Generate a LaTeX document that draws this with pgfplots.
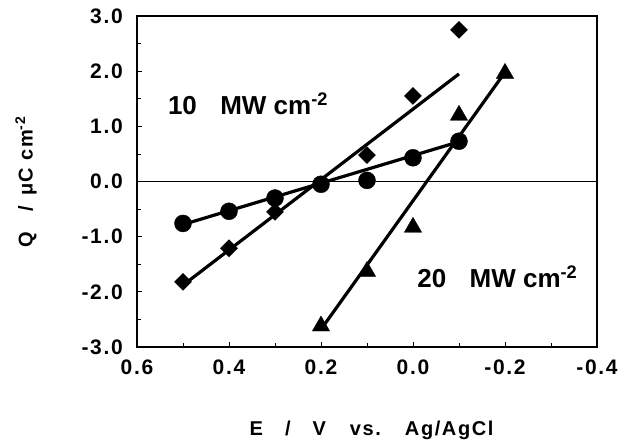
\documentclass[border=0pt]{standalone}
\usepackage{fontspec}
\setmainfont{Liberation Sans}
\usepackage{pgfplots}
\pgfplotsset{compat=1.18}

% circles, diamonds, triangles
\begin{document}
\begin{tikzpicture}
\begin{axis}[
  at={(0,0)}, anchor=south west,
  scale only axis, width=460pt, height=331pt,
  x dir=reverse,
  xmin=-0.4, xmax=0.6, ymin=-3, ymax=3,
  xtick={-0.4,-0.2,0,0.2,0.4,0.6},
  ytick={-3,-2,-1,0,1,2,3},
  minor x tick num=1, minor y tick num=1,
  tick align=inside, tick pos=left,
  major tick length=5pt, minor tick length=4pt,
  tick style={line width=0.8pt, black},
  axis line style={line width=2.2pt},
  /pgf/number format/.cd, fixed, fixed zerofill, precision=1, assume math mode=true,
  /pgfplots/.cd,
  xticklabel style={font=\fontsize{21}{21}\selectfont\bfseries\addfontfeature{LetterSpace=8}, anchor=center, yshift=-20pt},
  yticklabel style={font=\fontsize{21}{21}\selectfont\bfseries\addfontfeature{LetterSpace=8}, anchor=east, inner sep=0pt, xshift=-14pt},
  xlabel={E\hspace{1.1em}/\hspace{1.1em}V\hspace{1.2em}vs.\hspace{1.2em}Ag/AgCl},
  ylabel={Q\hspace{1em}/\hspace{0.5em}μC cm\textsuperscript{-2}},
  label style={font=\fontsize{20}{20}\selectfont\bfseries\addfontfeature{LetterSpace=8}},
  xlabel style={at={(axis description cs:0.51,-0.2508)}, anchor=center},
  ylabel style={at={(axis description cs:-0.2413,0.5)}, anchor=center},
  clip=false,
]
\addplot[black, line width=0.6pt, forget plot] coordinates {(-0.4,0) (0.6,0)};

% fitted lines
\addplot[black, line width=3.2pt] coordinates {(0.5,-0.78) (-0.1,0.72)};
\addplot[black, line width=3.2pt] coordinates {(0.5,-1.88) (-0.1,1.95)};
\addplot[black, line width=3.2pt] coordinates {(0.2,-2.68) (-0.2,1.98)};

% data
\addplot[only marks, mark=*, mark size=8.5pt, black] coordinates {
(0.5,-0.76) (0.4,-0.54) (0.3,-0.30) (0.2,-0.05) (0.1,0.02) (0.0,0.43) (-0.1,0.73)
};
\addplot[only marks, mark=square*, mark size=6pt, mark options={rotate=45}, black] coordinates {
(0.5,-1.82) (0.4,-1.21) (0.3,-0.55) (0.1,0.48) (0.0,1.55) (-0.1,2.75)
};
\addplot[only marks, mark=triangle*, mark size=10pt, black] coordinates {
(0.2,-2.62) (0.1,-1.63) (0.0,-0.83) (-0.1,1.20) (-0.2,1.96)
};

\node[anchor=west, inner sep=0pt, font=\fontsize{26}{26}\selectfont\bfseries]
  at (axis cs:0.533,1.41) {10\hspace{0.9em}MW cm\textsuperscript{-2}};
\node[anchor=west, inner sep=0pt, font=\fontsize{26}{26}\selectfont\bfseries]
  at (axis cs:-0.009,-1.72) {20\hspace{0.9em}MW cm\textsuperscript{-2}};
\end{axis}
\pgfresetboundingbox
\useasboundingbox (-137pt,-99pt) rectangle (484pt,347pt);
\end{tikzpicture}
\end{document}
